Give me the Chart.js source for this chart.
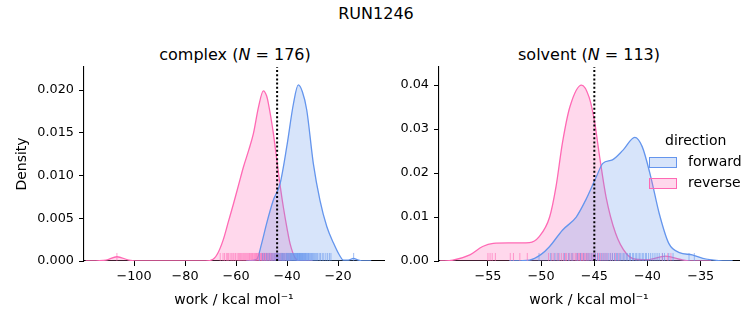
<!DOCTYPE html>
<html>
<head>
<meta charset="utf-8">
<script src="https://cdn.jsdelivr.net/npm/chart.js@4"></script>
<style>
  body { margin: 0; background: #fff; font-family: "DejaVu Sans", sans-serif; }
  #fig { position: relative; width: 753px; height: 325px; overflow: hidden; }
  canvas { position: absolute; }
  .ttl { position: absolute; color: #000; white-space: nowrap; transform: translate(-50%, -50%); }
  .leg { position: absolute; font-size: 14px; color: #000; white-space: nowrap; }
  .box { position: absolute; width: 26px; height: 9px; border: 1.3px solid; }
</style>
</head>
<body>
<div id="fig">
  <div class="ttl" style="left:376px; top:13px; font-size:16px;">RUN1246</div>
  <div class="ttl" style="left:235px; top:54px; font-size:16px;">complex (<i>N</i> = 176)</div>
  <div class="ttl" style="left:589px; top:54px; font-size:16px;">solvent (<i>N</i> = 113)</div>
  <canvas id="complex" width="395" height="285" style="left:0; top:40px;"></canvas>
  <canvas id="solvent" width="358" height="285" style="left:395px; top:40px;"></canvas>
  <div id="legend"></div>
</div>
<script>
// density curves (work in kcal/mol, density)
const complexForwardX = [-56, -51.9, -50, -48, -45.4, -42.7, -40.1, -37.5, -35.6, -34, -32.3, -29.7, -27.1, -24.4, -21.8, -19.5, -17.9, -16, -14, -12, -10, -7];
const complexForwardY = [0, 0.0002, 0.0020, 0.0044, 0.0071, 0.0091, 0.0134, 0.0184, 0.0206, 0.0198, 0.0177, 0.0114, 0.0071, 0.0040, 0.0021, 0.0007, 0.0001, 0.0001, 0.0003, 0.0001, 0, 0];
const complexReverseX = [-119, -111, -106.7, -102, -97, -72, -69, -67, -65, -63, -61, -59, -57.1, -55, -53.2, -51.2, -49.3, -48, -47.3, -45.4, -44, -42.7, -41.4, -40, -38.8, -36.9, -35, -30];
const complexReverseY = [0, 0.0001, 0.0005, 0.0001, 0, 0, 0.0002, 0.0010, 0.0025, 0.0046, 0.0067, 0.0089, 0.0110, 0.0130, 0.0149, 0.0180, 0.0199, 0.0193, 0.0184, 0.0150, 0.0118, 0.0088, 0.0062, 0.0038, 0.0020, 0.0004, 0, 0];

const solventForwardX = [-53, -51.1, -50, -49.2, -48, -46.7, -45.8, -44.8, -44.2, -43.3, -42.3, -41.2, -40.5, -39.7, -38.9, -38, -37, -35.8, -34.8, -33.3, -32];
const solventForwardY = [0, 0.0002, 0.0015, 0.0033, 0.0070, 0.0100, 0.0139, 0.0192, 0.0222, 0.0230, 0.0252, 0.0281, 0.0260, 0.0192, 0.0108, 0.0040, 0.0019, 0.0014, 0.0006, 0.0001, 0];
const solventReverseX = [-59.5, -58.3, -56.7, -55.5, -54.5, -53, -51.1, -50.2, -49.2, -48.6, -48, -47.3, -46.2, -45.5, -45, -44.5, -43.9, -43, -42, -41.1, -40, -38.3, -37, -36, -34];
const solventReverseY = [0, 0.0002, 0.0014, 0.0033, 0.0040, 0.0041, 0.0042, 0.0055, 0.0100, 0.0169, 0.0268, 0.0350, 0.0400, 0.0373, 0.0320, 0.0237, 0.0146, 0.0063, 0.0017, 0.0004, 0.0003, 0.0011, 0.0004, 0, 0];

// rug samples
const complexForwardRug = [-50.8, -49.6, -48.9, -48.1, -47.5, -46.8, -46.2, -45.6, -45.1, -44.7, -44.3, -43.9, -43.6, -43.2, -42.8, -42.4, -42.1, -41.8, -41.5, -41.2, -40.9, -40.5, -40.2, -39.9, -39.7, -39.4, -39.1, -38.8, -38.6, -38.4, -38.2, -38.0, -37.8, -37.5, -37.3, -37.1, -36.9, -36.7, -36.5, -36.3, -36.1, -35.9, -35.8, -35.6, -35.4, -35.2, -35.1, -34.9, -34.7, -34.5, -34.3, -34.1, -33.9, -33.7, -33.5, -33.2, -33.0, -32.8, -32.6, -32.3, -32.1, -31.8, -31.6, -31.3, -31.0, -30.7, -30.4, -30.0, -29.7, -29.3, -28.9, -28.4, -28.0, -27.4, -26.9, -26.2, -25.6, -24.8, -24.1, -23.4, -22.8, -13.9];
const complexReverseRug = [-106.7, -66.2, -65.1, -64.5, -63.8, -63.3, -62.9, -62.3, -61.7, -61.2, -60.8, -60.2, -59.6, -59.1, -58.7, -58.3, -57.9, -57.4, -57.0, -56.6, -56.2, -55.8, -55.4, -55.0, -54.7, -54.3, -53.9, -53.6, -53.3, -52.9, -52.6, -52.3, -52.0, -51.7, -51.4, -51.1, -50.9, -50.6, -50.3, -50.0, -49.8, -49.5, -49.3, -49.0, -48.8, -48.5, -48.3, -48.0, -47.8, -47.5, -47.2, -46.9, -46.7, -46.4, -46.1, -45.8, -45.5, -45.1, -44.8, -44.4, -44.1, -43.7, -43.3, -42.8, -42.4, -41.9, -41.5, -40.9, -40.3, -39.6, -38.9];
const solventForwardRug = [-50.2, -49.1, -48.7, -48.4, -47.8, -47.4, -47.1, -46.6, -46.3, -46.0, -45.7, -45.5, -45.3, -45.1, -44.9, -44.7, -44.5, -44.3, -44.1, -43.9, -43.7, -43.5, -43.3, -43.1, -42.9, -42.8, -42.6, -42.5, -42.3, -42.2, -42.0, -41.9, -41.7, -41.6, -41.4, -41.3, -41.1, -41.0, -40.8, -40.7, -40.5, -40.4, -40.2, -40.1, -39.9, -39.7, -39.5, -39.3, -39.1, -38.9, -38.6, -38.4, -38.0, -37.6, -36.1, -35.6];
const solventReverseRug = [-55.0, -54.8, -54.6, -54.3, -52.9, -52.6, -52.0, -51.3, -49.3, -49.0, -48.8, -48.5, -48.3, -48.1, -47.9, -47.7, -47.6, -47.4, -47.3, -47.1, -47.0, -46.8, -46.7, -46.6, -46.5, -46.4, -46.3, -46.2, -46.1, -46.0, -45.9, -45.8, -45.7, -45.6, -45.5, -45.3, -45.2, -45.0, -44.9, -44.7, -44.6, -44.4, -44.2, -44.0, -43.8, -43.5, -43.3, -43.0, -42.7, -38.6, -38.1, -37.8];

// dotted reference lines
const complexCut = -43.9;
const solventCut = -45.0;

// axis ranges and ticks
const complexXRange = [-119.6, -2];
const complexYMax = 0.0227;
const complexXTicks = [-100, -80, -60, -40, -20];
const complexYTicks = [0, 0.005, 0.010, 0.015, 0.020];
const solventXRange = [-59.6, -31.4];
const solventYMax = 0.0441;
const solventXTicks = [-55, -50, -45, -40, -35];
const solventYTicks = [0, 0.01, 0.02, 0.03, 0.04];

const directions = ['forward', 'reverse'];
const lineColors = ['rgb(100,149,237)', 'rgb(255,105,180)'];
const fillColors = ['rgba(100,149,237,0.26)', 'rgba(255,105,180,0.26)'];
const rugColors = ['rgba(100,149,237,0.6)', 'rgba(255,105,180,0.6)'];

const FONT = "'DejaVu Sans', sans-serif";
const minus = v => String(v).replace('-', '\u2212');

function curve(xs, ys, i) {
  return {
    type: 'line',
    data: xs.map((x, k) => ({ x, y: ys[k] })),
    borderColor: lineColors[i],
    backgroundColor: fillColors[i],
    borderWidth: 1.3,
    fill: 'origin',
    pointRadius: 0,
    cubicInterpolationMode: 'monotone',
    order: 2
  };
}

function rug(vals, i, yPos) {
  return {
    type: 'scatter',
    data: vals.map(x => ({ x, y: yPos })),
    pointStyle: 'line',
    rotation: 90,
    radius: 4,
    borderWidth: 1,
    borderColor: rugColors[i],
    backgroundColor: rugColors[i],
    order: 1
  };
}

function cutLine(x, ymax) {
  return {
    type: 'line',
    data: [{ x, y: 0 }, { x, y: ymax }],
    borderColor: '#000',
    borderWidth: 2,
    borderDash: [2, 2.2],
    pointRadius: 0,
    fill: false,
    order: 0
  };
}

function makeChart(id, cfg) {
  const tickFont = { family: FONT, size: 12.8 };
  new Chart(document.getElementById(id), {
    type: 'scatter',
    data: {
      datasets: [
        curve(cfg.fx, cfg.fy, 0),
        curve(cfg.rx, cfg.ry, 1),
        rug(cfg.frug, 0, cfg.rugY),
        rug(cfg.rrug, 1, cfg.rugY),
        cutLine(cfg.cut, cfg.ymax)
      ]
    },
    options: {
      responsive: false,
      animation: false,
      events: [],
      layout: { padding: { top: 27, right: cfg.padRight, left: 0, bottom: 0 } },
      plugins: { legend: { display: false }, tooltip: { enabled: false } },
      scales: {
        x: {
          type: 'linear',
          min: cfg.xr[0], max: cfg.xr[1],
          afterBuildTicks: s => { s.ticks = cfg.xt.map(v => ({ value: v })); },
          afterFit: s => { s.height = 64; },
          grid: { drawOnChartArea: false, drawTicks: true, tickLength: 5, color: '#000', lineWidth: 1 },
          border: { display: true, color: '#000', width: 1.1 },
          ticks: { color: '#000', font: tickFont, padding: 3, maxRotation: 0, callback: v => minus(v) },
          title: { display: true, text: 'work / kcal mol\u207B\u00B9', color: '#000', font: { family: FONT, size: 14 }, padding: { top: 0, bottom: 16.5 } }
        },
        y: {
          type: 'linear',
          min: 0, max: cfg.ymax,
          afterBuildTicks: s => { s.ticks = cfg.yt.map(v => ({ value: v })); },
          afterFit: s => { s.width = cfg.yWidth; },
          grid: { drawOnChartArea: false, drawTicks: true, tickLength: 5, color: '#000', lineWidth: 1 },
          border: { display: true, color: '#000', width: 1.1 },
          ticks: { color: '#000', font: tickFont, padding: 5, callback: v => v.toFixed(cfg.dec) },
          title: { display: cfg.ytitle, text: 'Density', color: '#000', font: { family: FONT, size: 14 }, padding: { top: 13.5, bottom: 0 } }
        }
      }
    }
  });
}

makeChart('complex', {
  fx: complexForwardX, fy: complexForwardY, rx: complexReverseX, ry: complexReverseY,
  frug: complexForwardRug, rrug: complexReverseRug, rugY: 0.00047,
  cut: complexCut, ymax: complexYMax, xr: complexXRange, xt: complexXTicks, yt: complexYTicks,
  dec: 3, yWidth: 84, padRight: 11, ytitle: true
});

makeChart('solvent', {
  fx: solventForwardX, fy: solventForwardY, rx: solventReverseX, ry: solventReverseY,
  frug: solventForwardRug, rrug: solventReverseRug, rugY: 0.00091,
  cut: solventCut, ymax: solventYMax, xr: solventXRange, xt: solventXTicks, yt: solventYTicks,
  dec: 2, yWidth: 44, padRight: 14, ytitle: false
});

// legend with title, matching the seaborn layout
const leg = document.getElementById('legend');
leg.innerHTML = '<div class="leg" style="left:665px; top:132px;">direction</div>' +
  directions.map((d, i) =>
    `<div class="box" style="left:649px; top:${157 + i * 21}px; border-color:${lineColors[i]}; background:${fillColors[i]};"></div>` +
    `<div class="leg" style="left:688px; top:${153 + i * 21}px;">${d}</div>`
  ).join('');
</script>
</body>
</html>
